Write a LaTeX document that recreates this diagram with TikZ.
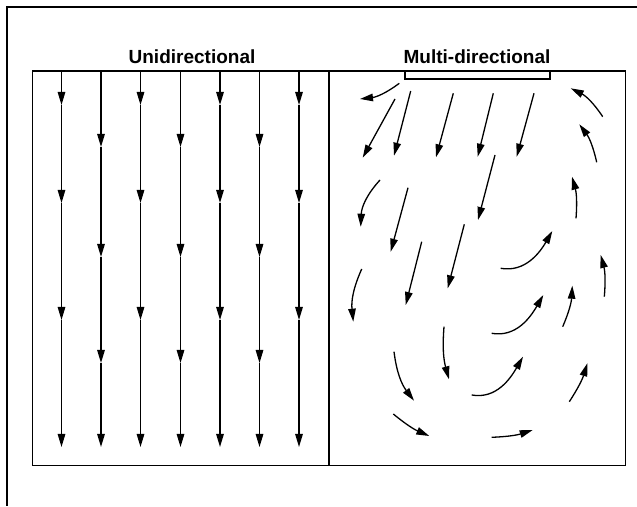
\documentclass[tikz,border=0pt]{standalone}
\usepackage{fontspec}
\setmainfont{Liberation Sans}
\usetikzlibrary{arrows.meta}
\begin{document}
\begin{tikzpicture}[x=1pt,y=1pt,
  frame/.style={line width=1.2pt},
  flow/.style={line width=1.3pt,-{Triangle[length=13pt,width=7.5pt]}},
  title/.style={font=\fontsize{19}{22}\selectfont\bfseries, anchor=base, inner sep=0pt}]
\useasboundingbox (0,0) rectangle (637,506);
\draw[frame] (637,499) -- (7,499) -- (7,0);
\draw[frame] (32.5,40.5) rectangle (625.5,435);
\draw[frame] (329,40.5) -- (329,435);
\draw[frame] (405,435) -- (405,427) -- (550,427) -- (550,435);
\node[title] (uni) at (192,442.7) {Unidirectional};
\node[title] (multi) at (477,442.7) {Multi-directional};
% unidirectional
\foreach \x in {61.5,140.5,220,299} {
  \draw[flow] (\x,435) -- (\x,401);
  \draw[flow] (\x,401) -- (\x,303);
  \draw[flow] (\x,303) -- (\x,186);
  \draw[flow] (\x,186) -- (\x,59);
}
\foreach \x in {101,180.5,259.5} {
  \draw[flow] (\x,435) -- (\x,359);
  \draw[flow] (\x,359) -- (\x,249);
  \draw[flow] (\x,249) -- (\x,143);
  \draw[flow] (\x,143) -- (\x,59);
}
% multi-directional
\draw[flow] (399.3,422.7) to[bend left=15] (360,407);
\draw[flow] (395,407) -- (362.7,348.3);
\draw[flow] (410.7,415) -- (394,350.3);
\draw[flow] (453.3,412.7) -- (436,348.7);
\draw[flow] (493.3,412.7) -- (477.7,349.3);
\draw[flow] (534,412.7) -- (516.7,349.3);
\draw[flow] (602.7,389.3) to[bend right=15] (570.7,417.7);
\draw[flow] (596.7,343.7) to[bend right=12] (579.3,381.7);
\draw[flow] (576,287.7) to[bend right=10] (572,329.3);
\draw[flow] (495,351) -- (478,286);
\draw[flow] (380,326) to[bend right=20] (360.7,279.3);
\draw[flow] (408,318.3) -- (390.7,254.3);
\draw[flow] (421.7,264.3) -- (405.7,201);
\draw[flow] (464.3,281.7) -- (447.7,217.7);
\draw[flow] (361.7,237) to[bend right=15] (353.3,184.3);
\draw[flow] (500.7,237.7) to[out=-10,in=-120] (552.3,275);
\draw[flow] (604.3,209.3) to[bend right=10] (600.7,251);
\draw[flow] (562.7,179.3) to[bend right=10] (572.3,220.3);
\draw[flow] (491.7,172.7) to[out=-10,in=-120] (543.3,211);
\draw[flow] (394,154.3) to[bend right=15] (414,105.3);
\draw[flow] (444,179.3) to[bend right=10] (449,126.7);
\draw[flow] (393.3,92) to[bend right=8] (429.3,70);
\draw[flow] (471.7,111) to[out=-10,in=-120] (523,149.3);
\draw[flow] (569.3,104.3) to[bend right=8] (587.3,142.7);
\draw[flow] (491.7,68.7) to[bend right=8] (532.7,76);
\end{tikzpicture}
\end{document}
